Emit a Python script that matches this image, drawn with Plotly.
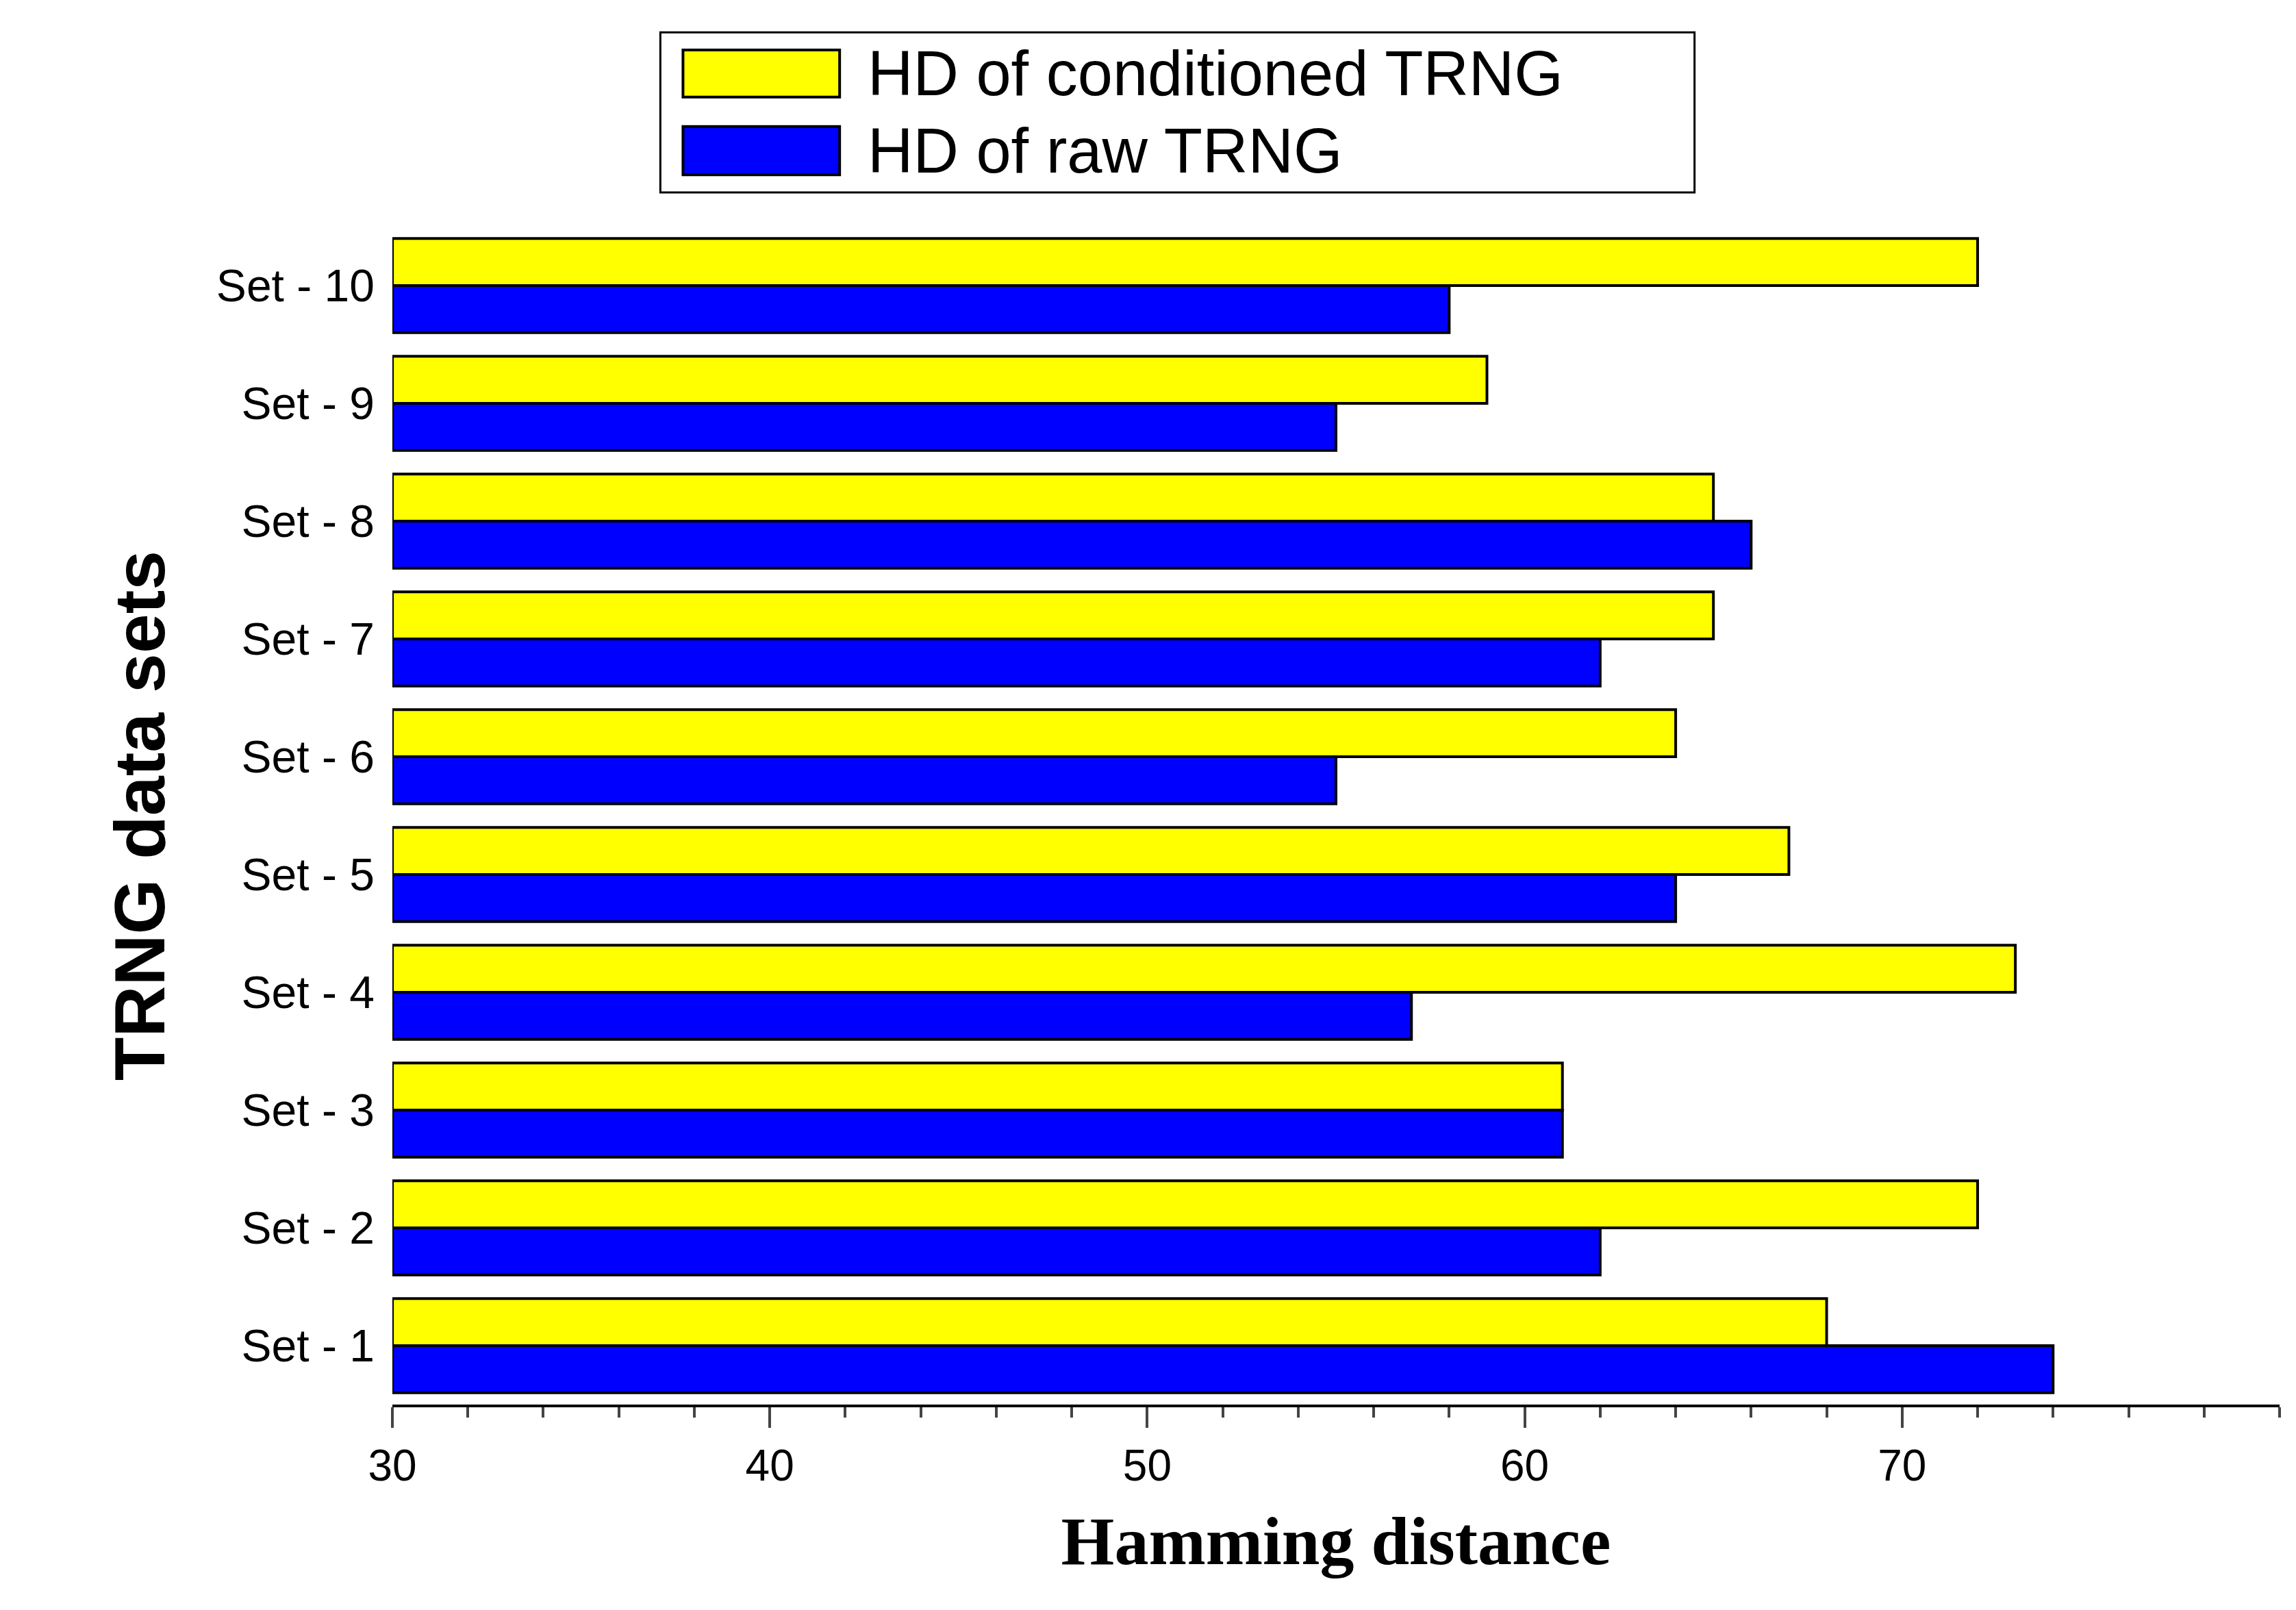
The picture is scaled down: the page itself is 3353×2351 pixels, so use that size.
import plotly.graph_objects as go

categories = ["Set - 1","Set - 2","Set - 3","Set - 4","Set - 5","Set - 6","Set - 7","Set - 8","Set - 9","Set - 10"]
conditioned = [68, 72, 61, 73, 67, 64, 65, 65, 59, 72]
raw = [74, 62, 61, 57, 64, 55, 62, 66, 55, 58]
ticks = [30, 40, 50, 60, 70]
names = ["HD of conditioned TRNG", "HD of raw TRNG"]
colors = ["#FFFF00", "#0000FF"]

fig = go.Figure()
fig.add_trace(go.Bar(y=categories, x=[v-30 for v in raw], base=30, orientation="h", name=names[1],
                     marker=dict(color=colors[1], line=dict(color="black", width=4)), showlegend=False))
fig.add_trace(go.Bar(y=categories, x=[v-30 for v in conditioned], base=30, orientation="h", name=names[0],
                     marker=dict(color=colors[0], line=dict(color="black", width=4)), showlegend=False))

# custom legend box
shapes = [dict(type="rect", xref="paper", yref="paper", x0=0.142, x1=0.690, y0=1.029, y1=1.165,
               line=dict(color="black", width=3), fillcolor="white")]
sw_y = [(1.110, 1.150), (1.044, 1.085)]
annotations = []
for (y0, y1), c, n in zip(sw_y, colors, names):
    shapes.append(dict(type="rect", xref="paper", yref="paper", x0=0.154, x1=0.237, y0=y0, y1=y1,
                       line=dict(color="black", width=4), fillcolor=c))
    annotations.append(dict(text=n, xref="paper", yref="paper", x=0.251, y=(y0+y1)/2, xanchor="left",
                            yanchor="middle", showarrow=False, font=dict(size=92, color="black")))

fig.update_layout(
    width=3353, height=2351, barmode="group", bargap=0.2, bargroupgap=0,
    plot_bgcolor="white", paper_bgcolor="white",
    margin=dict(l=565, r=32, t=323, b=308, autoexpand=False),
    font=dict(family="Liberation Sans, Arial", color="black"),
    showlegend=False, shapes=shapes, annotations=annotations,
    xaxis=dict(range=[30, 80], tickvals=ticks, ticks="outside", ticklen=30, tickwidth=4,
               showline=True, linecolor="black", linewidth=4, showgrid=False, zeroline=False,
               tickfont=dict(size=64),
               minor=dict(dtick=2, tick0=30, ticks="outside", ticklen=15, tickwidth=4, showgrid=False),
               title=dict(text="<b>Hamming distance</b>", font=dict(size=100, family="Liberation Serif, Times New Roman"), standoff=40)),
    yaxis=dict(showline=False, ticks="", showgrid=False, tickfont=dict(size=66), ticklabelstandoff=25,
               title=dict(text="<b>TRNG data sets</b>", font=dict(size=104), standoff=40)),
)
fig.write_html("out.html")
